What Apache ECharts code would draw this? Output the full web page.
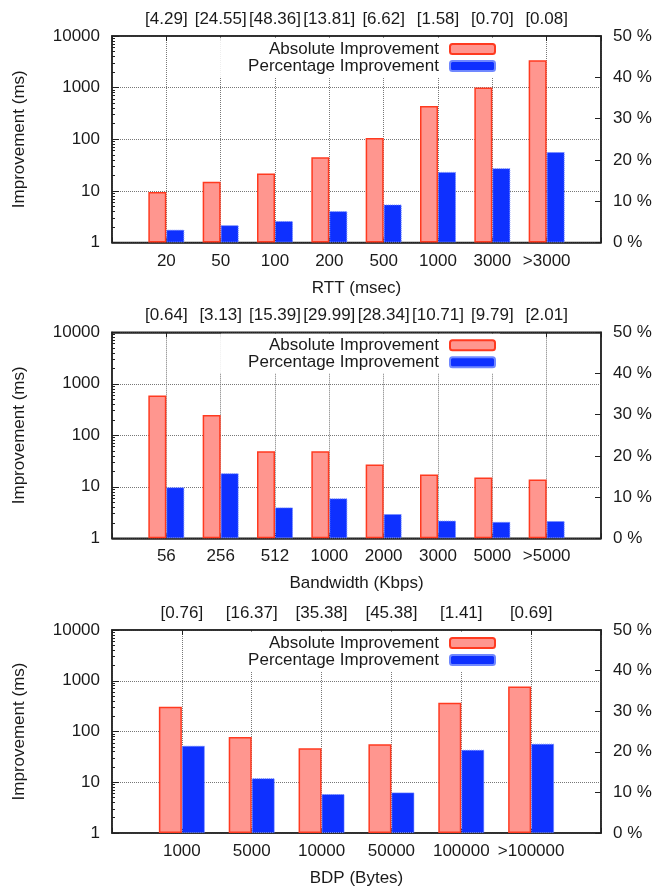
<!DOCTYPE html>
<html>
<head>
<meta charset="utf-8">
<script src="https://cdn.jsdelivr.net/npm/echarts@6/dist/echarts.min.js"></script>
<style>
html,body{margin:0;padding:0;background:#fff;}
#chart{width:663px;height:888px;}
</style>
</head>
<body>
<div id="chart"></div>
<script>
// ---- Data ----
const rttCats  = ['20','50','100','200','500','1000','3000','>3000'];
const rttShare = ['[4.29]','[24.55]','[48.36]','[13.81]','[6.62]','[1.58]','[0.70]','[0.08]'];
const rttAbs   = [9.5, 15, 21.8, 45, 106, 443, 1005, 3390];
const rttPct   = [3.1, 4.2, 5.2, 7.6, 9.2, 17.1, 18.0, 21.9];

const bwCats  = ['56','256','512','1000','2000','3000','5000','>5000'];
const bwShare = ['[0.64]','[3.13]','[15.39]','[29.99]','[28.34]','[10.71]','[9.79]','[2.01]'];
const bwAbs   = [590, 248, 49, 49, 27.2, 17.4, 15.2, 13.9];
const bwPct   = [12.4, 15.8, 7.5, 9.7, 5.9, 4.3, 4.0, 4.2];

const bdpCats  = ['1000','5000','10000','50000','100000','>100000'];
const bdpShare = ['[0.76]','[16.37]','[35.38]','[45.38]','[1.41]','[0.69]'];
const bdpAbs   = [308, 77.8, 46.8, 56, 369, 767];
const bdpPct   = [21.5, 13.5, 9.6, 10.0, 20.5, 22.0];

const absName = 'Absolute Improvement';
const pctName = 'Percentage Improvement';
const yName = 'Improvement (ms)';
const pctTicks = [0, 50, 10]; // min, max, interval
const logRange = [1, 10000];

// ---- Style ----
const FONT = "'Liberation Sans', Arial, Helvetica, sans-serif";
const TXT = '#1a1a1a';
const FS = 17;
const minorVals = [];
for (let e = 0; e < 4; e++) for (let m = 2; m <= 9; m++) minorVals.push(m * Math.pow(10, e));

const panels = [
  {top: 36,    h: 206.5, cats: rttCats, share: rttShare, abs: rttAbs, pct: rttPct, xName: 'RTT (msec)', barW: 18},
  {top: 332.3, h: 206,   cats: bwCats,  share: bwShare,  abs: bwAbs,  pct: bwPct,  xName: 'Bandwidth (Kbps)', barW: 18},
  {top: 630,   h: 205,   cats: bdpCats, share: bdpShare, abs: bdpAbs, pct: bdpPct, xName: 'BDP (Bytes)', barW: 23}
];

const option = {
  animation: false,
  backgroundColor: '#fff',
  textStyle: {fontFamily: FONT, color: TXT},
  grid: [], xAxis: [], yAxis: [], series: [], legend: []
};

const txt = {fontFamily: FONT, fontSize: FS, color: TXT};
const axLine = {show: true, onZero: false, lineStyle: {color: '#222', width: 1.5}};
const gridLine = {show: true, lineStyle: {type: 'dotted', color: '#777', width: 1}};

panels.forEach((p, k) => {
  const n = p.cats.length;
  option.grid.push({left: 112, right: 62, top: p.top, height: p.h, show: true,
    borderColor: '#222', borderWidth: 1.5, backgroundColor: 'transparent'});
  // bottom category axis (value-based so categories sit at integer positions)
  option.xAxis.push({gridIndex: k, type: 'value', position: 'bottom', min: -1, max: n, interval: 1,
    axisLine: axLine, axisTick: {show: true, inside: true, length: 5, lineStyle: {color: '#222'}},
    axisLabel: Object.assign({margin: 10, formatter: v => p.cats[Math.round(v)] ?? ''}, txt),
    splitLine: gridLine,
    name: p.xName, nameLocation: 'middle', nameGap: 37, nameTextStyle: txt});
  // top axis with share labels
  option.xAxis.push({gridIndex: k, type: 'value', position: 'top', min: -1, max: n, interval: 1,
    axisLine: axLine, axisTick: {show: true, inside: true, length: 5, lineStyle: {color: '#222'}},
    axisLabel: Object.assign({margin: 8, formatter: v => p.share[Math.round(v)] ?? ''}, txt),
    splitLine: {show: false}});
  // left log axis
  option.yAxis.push({gridIndex: k, type: 'log', logBase: 10, position: 'left', min: logRange[0], max: logRange[1],
    axisLine: axLine, axisTick: {show: true, inside: true, length: 7, lineStyle: {color: '#222'}},
    axisLabel: Object.assign({margin: 12, formatter: v => String(Math.round(v))}, txt),
    splitLine: gridLine,
    name: yName, nameLocation: 'middle', nameGap: 84, nameTextStyle: txt});
  // right percentage axis
  option.yAxis.push({gridIndex: k, type: 'value', position: 'right', min: pctTicks[0], max: pctTicks[1], interval: pctTicks[2],
    axisLine: axLine, axisTick: {show: true, inside: true, length: 6, lineStyle: {color: '#222'}},
    axisLabel: Object.assign({margin: 12, formatter: '{value} %'}, txt),
    splitLine: {show: false}});
  // minor ticks for the log axis
  option.yAxis.push({gridIndex: k, type: 'log', logBase: 10, position: 'left', min: logRange[0], max: logRange[1],
    axisLine: {show: false, onZero: false}, axisLabel: {show: false}, splitLine: {show: false},
    axisTick: {show: true, inside: true, length: 3, customValues: minorVals, lineStyle: {color: '#222'}}});

  option.series.push({type: 'bar', name: absName, xAxisIndex: 2 * k, yAxisIndex: 3 * k,
    data: p.abs.map((v, i) => [i, v]), barWidth: p.barW, barGap: '0%',
    itemStyle: {color: '#ff968f', borderColor: '#ff3a20', borderWidth: 1.5}});
  option.series.push({type: 'bar', name: pctName, xAxisIndex: 2 * k, yAxisIndex: 3 * k + 1,
    data: p.pct.map((v, i) => [i, v]), barWidth: p.barW, barGap: '0%',
    itemStyle: {color: '#0e30ff', borderColor: '#7088ff', borderWidth: 1, borderType: 'dotted'}});

  option.legend.push({data: [absName], orient: 'vertical', align: 'right', right: 167, top: p.top + 4.5,
    padding: 0, itemWidth: 45, itemHeight: 10, selectedMode: false, z: 6,
    textStyle: {fontFamily: FONT, fontSize: FS, color: TXT, lineHeight: 17, padding: [0, 6, 0, 0]}});
  option.legend.push({data: [pctName], orient: 'vertical', align: 'right', right: 163, top: p.top + 1.5,
    padding: [20, 4, 2.5, 28], backgroundColor: '#fff', itemWidth: 45, itemHeight: 10, selectedMode: false, z: 5,
    textStyle: {fontFamily: FONT, fontSize: FS, color: TXT, lineHeight: 17, padding: [0, 6, 0, 0]}});
});

const chart = echarts.init(document.getElementById('chart'), null, {renderer: 'canvas'});
chart.setOption(option);
</script>
</body>
</html>
